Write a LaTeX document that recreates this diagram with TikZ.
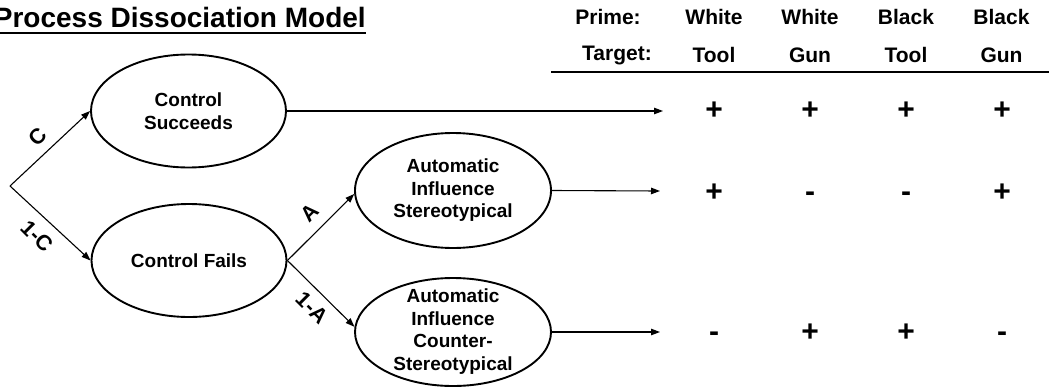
\documentclass[tikz,border=0pt]{standalone}
\usepackage{fontspec}
\setmainfont{Liberation Sans}
\usetikzlibrary{shapes.geometric,arrows.meta}
\begin{document}
\begin{tikzpicture}[x=1pt,y=-1pt,
  proc/.style={ellipse,draw,line width=1.9pt,inner sep=0pt},
  ptext/.style={align=center,font=\fontsize{19}{22.5}\selectfont\bfseries,inner sep=0pt},
  edge/.style={line width=1.1pt,-{Triangle[length=9pt,width=6.5pt]}},
  plab/.style={font=\fontsize{21.5}{24}\selectfont\bfseries,inner xsep=0pt},
  head/.style={font=\fontsize{21}{24}\selectfont\bfseries,inner sep=0pt},
  sign/.style={font=\fontsize{30}{32}\selectfont\bfseries,inner sep=0pt},
  minus/.style={sign,yshift=-3.5pt}]
\useasboundingbox (0,0) rectangle (1049,391);

% title
\node[anchor=base east,inner sep=0pt,font=\fontsize{28}{32}\selectfont\bfseries]
  (title) at (366,27) {Process Dissociation Model};
\draw[line width=2pt] ([yshift=-6pt]title.base west) -- ([yshift=-6pt]title.base east);

% process tree
\coordinate (split) at (10,186);
\node[proc,minimum width=195pt,minimum height=113pt] (cs) at (188.5,111) {};
\node[ptext] at (cs) {Control\\Succeeds};
\node[proc,minimum width=195pt,minimum height=113pt] (cf) at (189,260.5) {};
\node[ptext] at (cf) {Control Fails};
\node[proc,minimum width=196pt,minimum height=115pt] (st) at (453,190.5) {};
\node[ptext] at (st) {Automatic\\Influence\\Stereotypical};
\node[proc,minimum width=196pt,minimum height=108pt] (cst) at (453,332) {};
\node[ptext] at ([yshift=0.5pt]cst) {Automatic\\Influence\\Counter-\\Stereotypical};

\draw[edge] (split) -- node[plab,rotate=45,anchor=south,inner ysep=9pt] {C} (cs.west);
\draw[edge] (split) -- node[plab,rotate=-45,anchor=north,inner ysep=10pt] {1-C} (cf.west);
\draw[edge] (cf.east) -- node[plab,rotate=45,anchor=south,inner ysep=10pt,pos=0.52] {A} (st.182);
\draw[edge] (cf.east) -- node[plab,rotate=-45,anchor=north,inner ysep=8pt,pos=0.54] {1-A} (cst.177);

% outcome arrows
\coordinate (o1) at (663,111);
\coordinate (o2) at (660,191);
\coordinate (o3) at (660,332);
\draw[edge] (cs.east) -- (o1);
\draw[edge] (st.east) -- (o2);
\draw[edge] (cst.east) -- (o3);

% table header
\node[head] (hp) at (608,17) {Prime:};
\node[head] (ht) at (617,55) {Target:};
\node[head] (p1) at (714,17) {White};
\node[head] (p2) at (810,17) {White};
\node[head] (p3) at (906,17) {Black};
\node[head] (p4) at (1001.5,17) {Black};
\node[head] (t1) at (714,55) {Tool};
\node[head] (t2) at (810,55) {Gun};
\node[head] (t3) at (906,55) {Tool};
\node[head] (t4) at (1001.5,55) {Gun};
\coordinate (rl) at (551,72);
\coordinate (rr) at (1049,72);
\draw[line width=1.5pt] (rl) -- (rr);

% predicted responses
\node[sign] (a1) at (714,111) {+};
\node[sign] (a2) at (810,111) {+};
\node[sign] (a3) at (906,111) {+};
\node[sign] (a4) at (1002,111) {+};
\node[sign] (b1) at (714,193) {+};
\node[minus] (b2) at (810,193) {-};
\node[minus] (b3) at (906,193) {-};
\node[sign] (b4) at (1002,193) {+};
\node[minus] (c1) at (714,333) {-};
\node[sign] (c2) at (810,333) {+};
\node[sign] (c3) at (906,333) {+};
\node[minus] (c4) at (1002,333) {-};
\end{tikzpicture}
\end{document}
